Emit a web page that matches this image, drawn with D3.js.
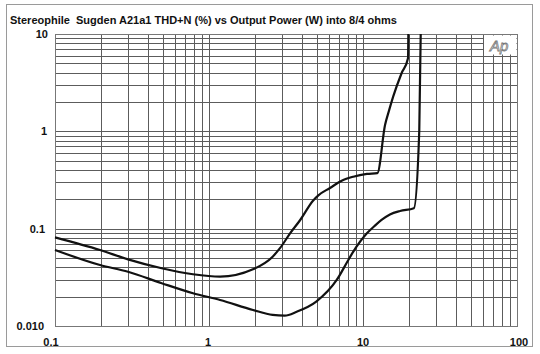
<!DOCTYPE html>
<html><head><meta charset="utf-8">
<script src="https://cdn.jsdelivr.net/npm/d3@7"></script>
<style>
html,body{margin:0;padding:0;background:#fff;}
svg{display:block;font-family:"Liberation Sans",Arial,sans-serif;}
</style></head>
<body>
<svg id="c" width="540" height="354"></svg>
<script>
const title = "Stereophile  Sugden A21a1 THD+N (%) vs Output Power (W) into 8/4 ohms";
const xTickValues = [0.1, 1, 10, 100];
const xTickLabels = ["0.1", "1", "10", "100"];
const yTickValues = [10, 1, 0.1, 0.01];
const yTickLabels = ["10", "1", "0.1", "0.010"];

// Upper trace (clips near 20 W)
const upperPower = [0.1, 0.196, 0.298, 0.493, 0.787, 1.18, 1.93, 2.59, 2.89, 3.37, 3.9, 4.75, 5.13, 6.11, 7.27, 8.65, 10.6, 12.4, 13.9, 14.8, 15.7, 17.8, 19.6, 19.7];
const upperThd   = [0.0815, 0.0604, 0.0484, 0.0392, 0.034, 0.0321, 0.0382, 0.0515, 0.063, 0.090, 0.122, 0.195, 0.22, 0.262, 0.311, 0.342, 0.365, 0.372, 1.16, 1.66, 2.27, 3.95, 5.63, 10];
// Lower trace (clips near 23 W)
const lowerPower = [0.1, 0.196, 0.298, 0.493, 0.787, 1.18, 1.93, 2.59, 3.1, 3.71, 4.97, 6.75, 8.03, 8.65, 10.6, 12.0, 13.2, 14.96, 17.4, 21.4, 23.2, 23.7];
const lowerThd   = [0.0604, 0.0423, 0.0361, 0.0275, 0.0217, 0.0185, 0.0146, 0.0130, 0.0128, 0.014, 0.0178, 0.0297, 0.0477, 0.058, 0.0895, 0.108, 0.123, 0.140, 0.152, 0.162, 1.03, 10];

const svg = d3.select("#c");
const L = 55, R = 517, T = 34, B = 326;
const x = d3.scaleLog().domain([0.1, 100]).range([L, R]);
const y = d3.scaleLog().domain([0.01, 10]).range([B, T]);

// outer frame
svg.append("rect").attr("x", 6.5).attr("y", 4.5).attr("width", 526).attr("height", 342)
  .attr("fill", "none").attr("stroke", "#9a9a9a").attr("stroke-width", 1);

svg.append("text").attr("x", 10).attr("y", 23.5).attr("font-size", 11).attr("font-weight", "bold")
  .attr("fill", "#111").attr("xml:space", "preserve").text(title);

// grid
const minor = [];
[0.1, 1, 10].forEach(d => { for (let k = 1; k <= 9; k++) minor.push(d * k); });
minor.push(100);
const yMinor = [];
[0.01, 0.1, 1].forEach(d => { for (let k = 1; k <= 9; k++) yMinor.push(d * k); });
yMinor.push(10);

const g = svg.append("g");
g.selectAll(".vx").data(minor).join("line")
  .attr("x1", d => Math.round(x(d)) + 0.5).attr("x2", d => Math.round(x(d)) + 0.5)
  .attr("y1", T).attr("y2", B).attr("stroke", "#5c5c5c").attr("stroke-width", 1);
g.selectAll(".hy").data(yMinor).join("line")
  .attr("y1", d => Math.round(y(d)) + 0.5).attr("y2", d => Math.round(y(d)) + 0.5)
  .attr("x1", L).attr("x2", R).attr("stroke", "#5c5c5c").attr("stroke-width", 1);

// Ap logo box
svg.append("rect").attr("x", 484).attr("y", T + 1.5).attr("width", R - 484 - 0.5).attr("height", 53 - T)
  .attr("fill", "#fff");
svg.append("text").attr("x", 490).attr("y", 51).attr("font-size", 15).attr("font-style", "italic")
  .attr("fill", "none").attr("stroke", "#777").attr("stroke-width", 0.8).text("Ap");

// plot frame
svg.append("rect").attr("x", L + 0.5).attr("y", T + 0.5).attr("width", R - L).attr("height", B - T)
  .attr("fill", "none").attr("stroke", "#777").attr("stroke-width", 1);

// axes labels
const yLabelEnd = [48, 47, 45, 44];
svg.selectAll(".yl").data(yTickValues).join("text")
  .attr("x", (d, i) => yLabelEnd[i]).attr("y", d => y(d) + 4).attr("text-anchor", "end")
  .attr("font-size", 11).attr("font-weight", "bold").attr("fill", "#111")
  .text((d, i) => yTickLabels[i]);
const xLabelShift = [-4, -1, 0, 2];
svg.selectAll(".xl").data(xTickValues).join("text")
  .attr("x", (d, i) => x(d) + xLabelShift[i]).attr("y", 346).attr("text-anchor", "middle")
  .attr("font-size", 11).attr("font-weight", "bold").attr("fill", "#111")
  .text((d, i) => xTickLabels[i]);

// curves
const line = d3.line().x(d => x(d[0])).y(d => y(d[1])).curve(d3.curveMonotoneX);
const up = upperPower.map((p, i) => [p, upperThd[i]]);
const lo = lowerPower.map((p, i) => [p, lowerThd[i]]);
[up, lo].forEach(s => {
  svg.append("path").attr("d", line(s)).attr("fill", "none")
    .attr("stroke", "#111").attr("stroke-width", 2.2).attr("stroke-linejoin", "round");
});
</script>
</body></html>
